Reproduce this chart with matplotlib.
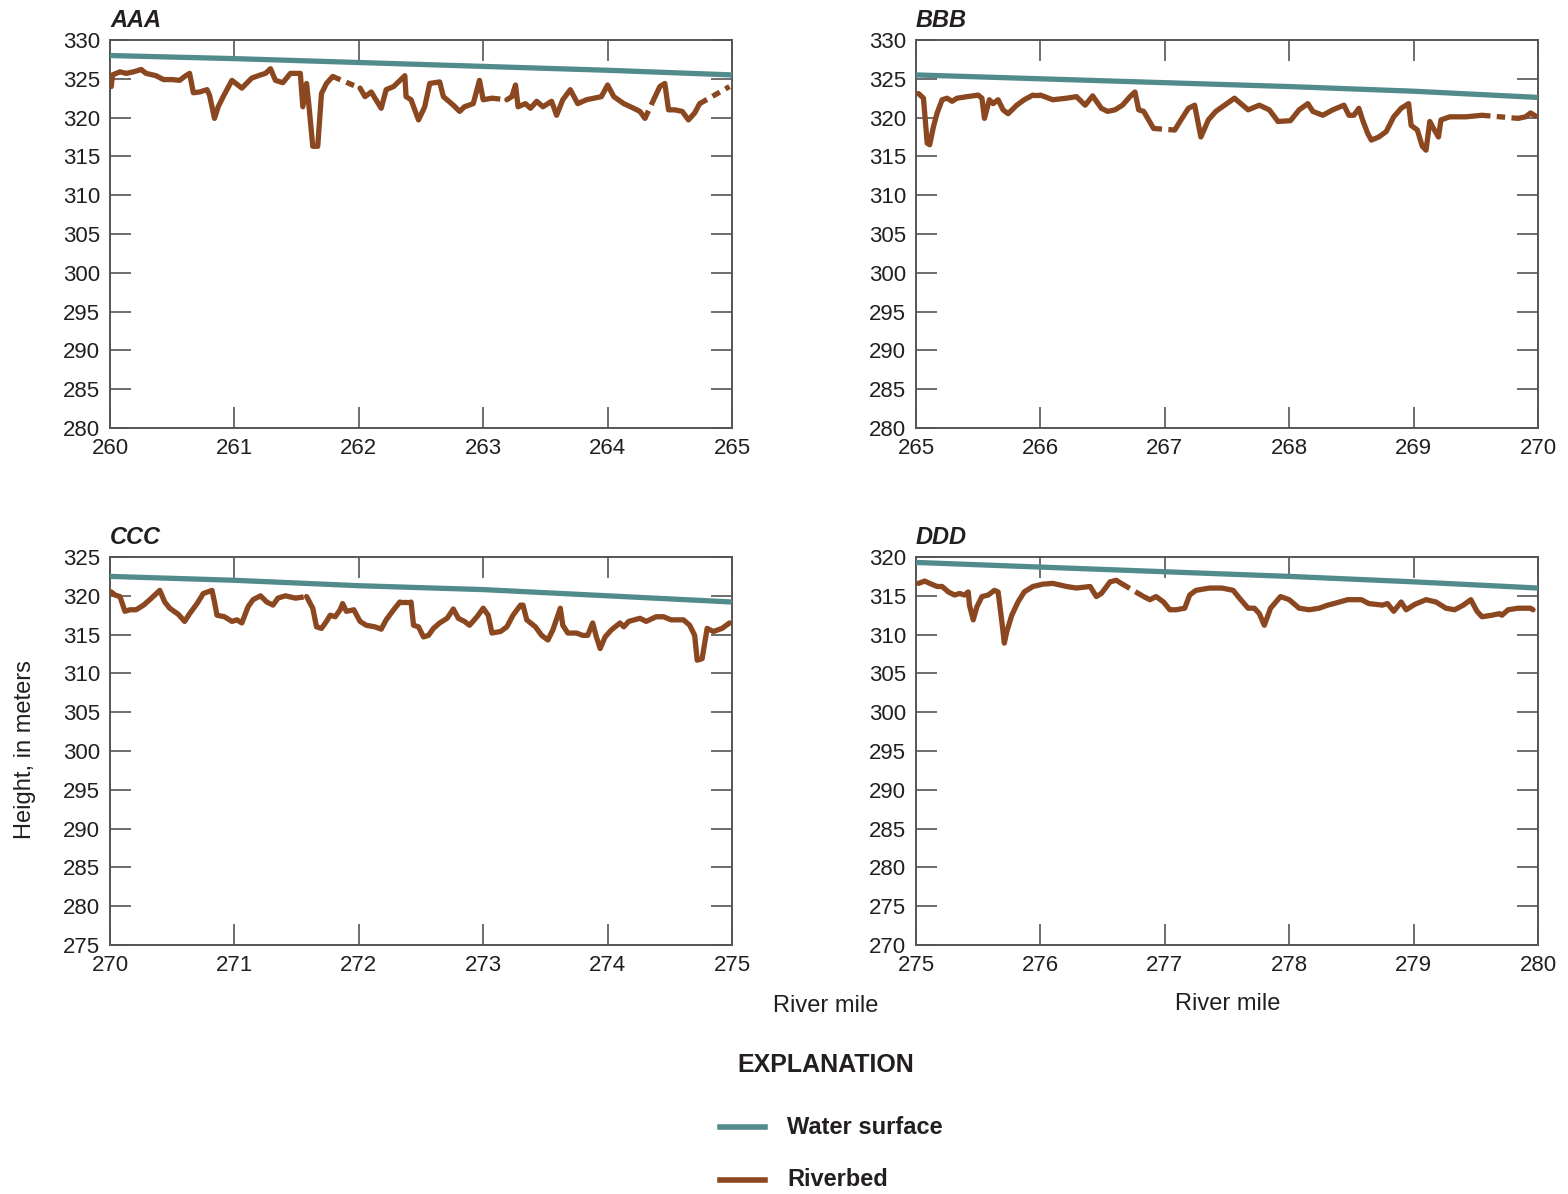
import numpy as np
import matplotlib

matplotlib.use("Agg")
import matplotlib.pyplot as plt

nan = np.nan

# panel AAA
a_ws_mile = [260, 261, 262, 263, 264, 265]
a_ws = [328.0, 327.6, 327.1, 326.6, 326.1, 325.5]
a_mile = [260.01, 260.02, 260.08, 260.13, 260.19, 260.25, nan, 260.29, 260.37, 260.43, 260.50,
          260.56, 260.60, 260.64, 260.67, 260.72, 260.78, 260.80, 260.84, 260.87, 260.91, 260.98,
          261.06, 261.14, 261.21, 261.25, 261.29, 261.33, 261.39, 261.45, 261.53, 261.55, 261.58,
          261.60, 261.63, 261.67, 261.70, 261.74, 261.79, nan, 262.01, 262.05, 262.10, 262.13,
          262.18, 262.22, 262.28, 262.37, 262.38, 262.42, 262.48, 262.53, 262.57, 262.65, 262.68,
          262.76, 262.81, 262.85, 262.92, 262.97, 263.00, 263.07, nan, 263.19, 263.23, 263.26,
          263.28, 263.34, 263.38, 263.43, 263.48, 263.55, 263.59, 263.64, 263.70, 263.76, 263.83,
          263.95, 264.00, 264.05, 264.13, 264.21, 264.26, 264.30, nan, 264.37, 264.42, 264.46,
          264.49, 264.54, 264.60, 264.65, 264.70, 264.74, nan, 264.98]
a_bed = [324.0, 325.5, 325.9, 325.7, 325.9, 326.2, nan, 325.7, 325.4, 324.9, 324.9,
         324.8, 325.3, 325.7, 323.2, 323.3, 323.6, 322.9, 319.9, 321.4, 322.7, 324.8,
         323.8, 325.1, 325.5, 325.7, 326.3, 324.8, 324.5, 325.7, 325.7, 321.4, 324.4,
         321.4, 316.3, 316.3, 323.1, 324.4, 325.3, nan, 323.8, 322.7, 323.3, 322.5,
         321.2, 323.6, 324.0, 325.4, 322.7, 322.3, 319.7, 321.4, 324.4, 324.6, 322.7,
         321.6, 320.8, 321.4, 321.8, 324.8, 322.3, 322.5, nan, 322.3, 322.7, 324.2,
         321.4, 321.8, 321.2, 322.1, 321.4, 322.1, 320.3, 322.3, 323.6, 321.8, 322.3,
         322.7, 324.2, 322.7, 321.8, 321.2, 320.8, 319.9, nan, 322.3, 324.0, 324.4,
         321.0, 321.0, 320.8, 319.7, 320.6, 321.8, nan, 324.0]

# panel BBB
b_ws_mile = [265, 266, 267, 268, 269, 270]
b_ws = [325.5, 325.0, 324.5, 324.0, 323.4, 322.6]
b_mile = [265.02, 265.06, 265.09, 265.11, 265.14, 265.17, 265.21, 265.25, 265.29, 265.33,
          265.41, 265.50, 265.53, 265.55, 265.59, 265.62, 265.66, 265.70, 265.74, 265.81,
          265.87, 265.94, nan, 266.00, 266.10, 266.21, 266.29, 266.36, 266.42, 266.49, 266.54,
          266.60, 266.66, 266.72, 266.76, 266.79, 266.83, 266.87, 266.91, nan, 267.08, 267.13,
          267.19, 267.24, 267.29, 267.35, 267.41, 267.56, 267.67, 267.76, 267.84, 267.91,
          268.01, 268.08, 268.15, 268.19, 268.27, 268.35, 268.44, 268.48, 268.52, 268.56,
          268.59, 268.63, 268.66, 268.72, 268.78, 268.84, 268.90, 268.96, 268.98, 269.03,
          269.07, 269.10, 269.13, 269.16, 269.20, 269.22, 269.29, 269.42, 269.55, nan, 269.84,
          269.90, 269.94, 269.98]
b_bed = [323.1, 322.5, 316.7, 316.5, 318.8, 320.6, 322.3, 322.5, 322.1, 322.5,
         322.7, 322.9, 322.5, 319.9, 322.3, 321.8, 322.3, 321.0, 320.5, 321.6,
         322.3, 322.9, nan, 322.9, 322.3, 322.5, 322.7, 321.6, 322.8, 321.2, 320.8,
         321.0, 321.6, 322.7, 323.3, 321.0, 320.8, 319.7, 318.6, nan, 318.4, 319.7,
         321.2, 321.6, 317.5, 319.7, 320.8, 322.5, 321.0, 321.6, 321.0, 319.5,
         319.6, 321.0, 321.8, 320.8, 320.3, 321.0, 321.6, 320.3, 320.3, 321.2,
         319.7, 318.0, 317.1, 317.5, 318.2, 320.1, 321.2, 321.8, 319.0, 318.4,
         316.3, 315.8, 319.5, 318.6, 317.5, 319.7, 320.1, 320.1, 320.3, nan, 319.9,
         320.1, 320.6, 320.2]

# panel CCC
c_ws_mile = [270, 271, 272, 273, 274, 275]
c_ws = [322.5, 322.0, 321.3, 320.8, 320.0, 319.2]
c_mile = [270.01, 270.04, 270.08, 270.12, 270.16, 270.21, 270.27, 270.32, 270.36, 270.40,
          270.44, 270.48, 270.55, 270.60, 270.64, 270.70, 270.75, 270.82, 270.84, 270.86,
          270.92, 270.98, 271.02, 271.06, 271.11, 271.15, 271.21, 271.26, 271.31, 271.35,
          271.41, 271.49, nan, 271.58, 271.63, 271.66, 271.70, 271.74, 271.77, 271.81, 271.85,
          271.87, 271.90, 271.96, 272.01, 272.06, 272.13, 272.18, 272.22, 272.28, 272.33, nan,
          272.42, 272.44, 272.48, 272.52, 272.56, 272.60, 272.65, 272.71, 272.76, 272.80,
          272.85, 272.89, 272.95, 273.00, 273.04, 273.07, 273.14, 273.19, 273.24, 273.30,
          273.32, 273.35, 273.42, 273.47, 273.52, 273.56, 273.62, 273.64, 273.68, 273.75,
          273.80, 273.84, 273.88, 273.91, 273.94, 273.98, 274.03, 274.10, 274.13, 274.17,
          274.26, 274.31, 274.39, 274.45, 274.51, 274.61, 274.66, 274.70, 274.72, 274.76,
          274.80, 274.85, 274.92, 274.98]
c_bed = [320.5, 320.1, 319.9, 318.0, 318.2, 318.2, 318.8, 319.5, 320.1, 320.7,
         319.2, 318.4, 317.6, 316.7, 317.7, 319.0, 320.3, 320.7, 319.2, 317.5,
         317.3, 316.7, 316.9, 316.5, 318.6, 319.5, 320.0, 319.2, 318.8, 319.7,
         320.0, 319.7, nan, 319.9, 318.4, 316.0, 315.8, 316.7, 317.5, 317.3, 318.2,
         319.0, 318.0, 318.2, 316.7, 316.2, 316.0, 315.7, 316.9, 318.2, 319.2, nan,
         319.2, 316.2, 316.0, 314.7, 314.9, 315.8, 316.5, 317.1, 318.3, 317.1,
         316.7, 316.2, 317.3, 318.4, 317.5, 315.2, 315.4, 316.0, 317.5, 318.8,
         318.8, 316.9, 316.0, 314.9, 314.3, 315.6, 318.4, 316.2, 315.2, 315.2,
         314.9, 314.9, 316.5, 314.7, 313.2, 314.7, 315.6, 316.5, 316.0, 316.7,
         317.1, 316.7, 317.3, 317.3, 316.9, 316.9, 316.2, 314.9, 311.7, 311.9,
         315.8, 315.4, 315.8, 316.5]

# panel DDD
d_ws_mile = [275, 276, 277, 278, 279, 280]
d_ws = [319.3, 318.7, 318.1, 317.5, 316.8, 316.0]
d_mile = [275.02, 275.07, 275.11, 275.17, nan, 275.21, 275.26, 275.31, 275.35, 275.39,
          275.42, 275.43, 275.46, 275.49, 275.53, 275.58, 275.63, 275.66, 275.69, 275.71,
          275.73, 275.77, 275.82, 275.87, 275.94, 276.02, 276.10, 276.21, 276.29, 276.40,
          276.45, 276.49, 276.56, 276.61, 276.66, nan, 276.83, 276.88, 276.93, 276.99,
          277.04, 277.09, 277.16, 277.20, 277.25, 277.36, 277.46, 277.55, 277.60, 277.67,
          277.72, 277.76, 277.80, 277.85, 277.93, 278.00, 278.08, 278.16, 278.24, 278.31,
          278.36, 278.47, 278.58, 278.64, 278.75, 278.79, 278.84, 278.90, 278.94, 279.01,
          279.10, 279.18, 279.26, 279.33, 279.40, 279.46, 279.51, 279.55, 279.63, 279.69,
          nan, 279.71, 279.76, 279.84, 279.94, 279.96]
d_bed = [316.6, 316.9, 316.6, 316.2, nan, 316.2, 315.5, 315.1, 315.3, 315.1,
         315.5, 313.8, 311.9, 313.6, 314.9, 315.1, 315.7, 315.5, 311.7, 308.9,
         310.4, 312.5, 314.2, 315.5, 316.2, 316.5, 316.6, 316.2, 316.0, 316.2,
         314.9, 315.3, 316.8, 317.0, 316.5, nan, 314.9, 314.5, 314.9, 314.2,
         313.2, 313.2, 313.4, 315.1, 315.7, 316.0, 316.0, 315.7, 314.7, 313.4,
         313.4, 312.7, 311.2, 313.4, 314.9, 314.5, 313.4, 313.2, 313.4, 313.8,
         314.0, 314.5, 314.5, 314.0, 313.8, 314.0, 313.0, 314.2, 313.2, 313.9,
         314.5, 314.2, 313.4, 313.2, 313.8, 314.5, 313.0, 312.3, 312.5, 312.7,
         nan, 312.5, 313.2, 313.4, 313.4, 313.2]

panels = [
    ("AAA", a_ws_mile, a_ws, a_mile, a_bed, (260, 265), (280, 330)),
    ("BBB", b_ws_mile, b_ws, b_mile, b_bed, (265, 270), (280, 330)),
    ("CCC", c_ws_mile, c_ws, c_mile, c_bed, (270, 275), (275, 325)),
    ("DDD", d_ws_mile, d_ws, d_mile, d_bed, (275, 280), (270, 320)),
]

WATER = "#528b8c"
BED = "#8b4720"
SPINE = "#555555"
INK = "#231f20"

plt.rcParams["font.family"] = ["Liberation Sans Narrow", "Liberation Sans", "DejaVu Sans"]

W, H = 1568, 1194
fig = plt.figure(figsize=(W / 100, H / 100), dpi=100)

boxes = [(110, 40), (916, 40), (110, 557), (916, 557)]
aw, ah = 622, 388

for (name, wsx, wsy, mx, my, xl, yl), (x0, y0) in zip(panels, boxes):
    ax = fig.add_axes([x0 / W, 1 - (y0 + ah) / H, aw / W, ah / H])
    mx = np.array(mx, dtype=float)
    my = np.array(my, dtype=float)
    ax.plot(wsx, wsy, color=WATER, lw=3.8, solid_capstyle="butt", zorder=3)
    ax.plot(mx, my, color=BED, lw=3.8, solid_joinstyle="round", solid_capstyle="round",
            zorder=3)
    # dashed links across data gaps
    for i in np.where(np.isnan(my))[0]:
        ax.plot([mx[i - 1], mx[i + 1]], [my[i - 1], my[i + 1]], color=BED, lw=3.8,
                linestyle=(0, (1.6, 1.2)), zorder=3)
    ax.set_xlim(*xl)
    ax.set_ylim(*yl)
    ax.set_xticks(np.arange(xl[0], xl[1] + 1, 1))
    ax.set_yticks(np.arange(yl[0], yl[1] + 1, 5))
    ax.tick_params(direction="in", length=15, width=1.2, color=SPINE, labelsize=16,
                   labelcolor=INK, top=True, right=True, pad=7)
    for s in ax.spines.values():
        s.set_color(SPINE)
        s.set_linewidth(1.4)
    ax.text(0.0, 1.02, name, transform=ax.transAxes, fontsize=17, fontweight="bold",
            fontstyle="italic", ha="left", va="bottom", color=INK)

fig.text(25 / W, 1 - 750 / H, "Height, in meters", rotation=90, fontsize=17,
         ha="center", va="center", color=INK)
fig.text(826 / W, 1 - 1006 / H, "River mile", fontsize=17, ha="center", va="center",
         color=INK)
fig.text(1228 / W, 1 - 1004 / H, "River mile", fontsize=17, ha="center", va="center",
         color=INK)
fig.text(826 / W, 1 - 1065 / H, "EXPLANATION", fontsize=18, fontweight="bold",
         ha="center", va="center", color=INK)

for label, color, yy in [("Water surface", WATER, 1127), ("Riverbed", BED, 1180)]:
    fig.add_artist(plt.Line2D([720 / W, 765 / W], [1 - yy / H, 1 - yy / H], color=color,
                              lw=4.0, transform=fig.transFigure))
    fig.text(787 / W, 1 - yy / H, label, fontsize=17, fontweight="bold", ha="left",
             va="center", color=INK)

fig.savefig("out.png", dpi=100)
